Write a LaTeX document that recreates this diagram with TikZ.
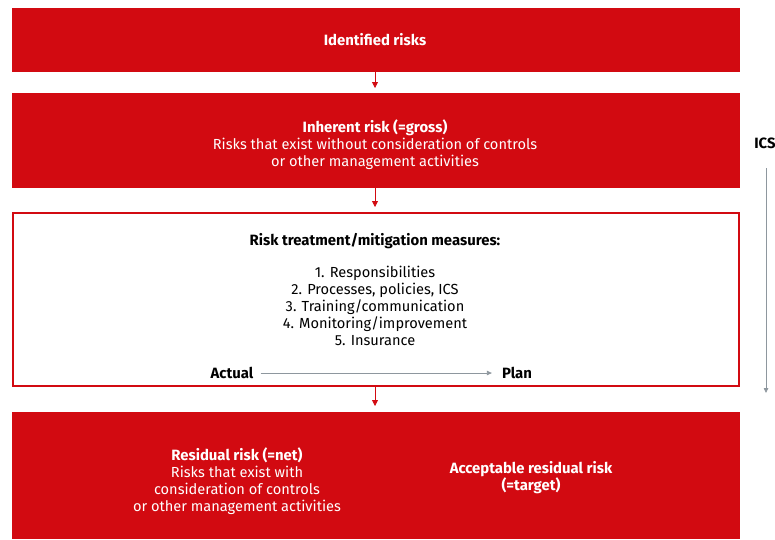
\documentclass[tikz,border=0pt]{standalone}
\usepackage{fontspec}
\setmainfont{Fira Sans}
\usetikzlibrary{arrows.meta}
\definecolor{rred}{HTML}{D20A11}
\definecolor{gline}{HTML}{8E979E}
\begin{document}
\begin{tikzpicture}[x=1pt,y=-1pt,
  redbox/.style={fill=rred,draw=none},
  txt/.style={font=\fontsize{14.6}{17}\selectfont,align=center,inner sep=0pt},
  btxt/.style={font=\fontsize{14.9}{17}\selectfont\bfseries,align=center,inner sep=0pt},
  wtxt/.style={txt,text=white},
  redarrow/.style={draw=rred,line width=0.8pt,-{Triangle[length=6pt,width=6pt]}},
  grayarrow/.style={draw=gline,line width=0.8pt,-{Triangle[length=5pt,width=4.5pt]}}]
\useasboundingbox (0,0) rectangle (775,539);
\path[redbox] (12,8) rectangle (740,72);
\node[coordinate] (b1) at (375,72) {};
\node[btxt,text=white] (t1) at (375,40) {Identified risks};
\path[redbox] (12,93) rectangle (740,188);
\node[coordinate] (b2t) at (375,88) {};
\node[coordinate] (b2b) at (375,188) {};
\node[wtxt] (t2) at (375,145) {{\fontsize{14.9}{17}\selectfont\bfseries Inherent risk (=gross)}\\Risks that exist without consideration of controls\\or other management activities};
\draw[rred,line width=1.6pt,fill=white] (13,213) rectangle (739,386);
\node[coordinate] (b3t) at (375,207) {};
\node[coordinate] (b3b) at (375,387) {};
\node[btxt] (t3) at (375,241) {Risk treatment/mitigation measures:};
\node[txt] (list) at (375,306) {1. Responsibilities\\2. Processes, policies, ICS\\3. Training/communication\\4. Monitoring/improvement\\5. Insurance};
\node[btxt] (act) at (232,373) {Actual};
\node[btxt] (plan) at (517,373) {Plan};
\draw[grayarrow] ([xshift=7pt]act.east) -- ([xshift=-10pt]plan.west);
\path[redbox] (12,412) rectangle (740,539);
\node[coordinate] (b4t) at (375,406) {};
\node[wtxt] (t4) at (237,481) {{\fontsize{14.9}{17}\selectfont\bfseries Residual risk (=net)}\\Risks that exist with\\consideration of controls\\or other management activities};
\node[btxt,text=white] (t5) at (531,478) {Acceptable residual risk\\(=target)};
\node[btxt] (ics) at (765,143) {ICS};
\node[coordinate] (icsa) at (766,168) {};
\node[coordinate] (icsb) at (766,393) {};
\draw[grayarrow] (icsa) -- (icsb);
\draw[redarrow] (b1) -- (b2t);
\draw[redarrow] (b2b) -- (b3t);
\draw[redarrow] (b3b) -- (b4t);
\end{tikzpicture}
\end{document}
